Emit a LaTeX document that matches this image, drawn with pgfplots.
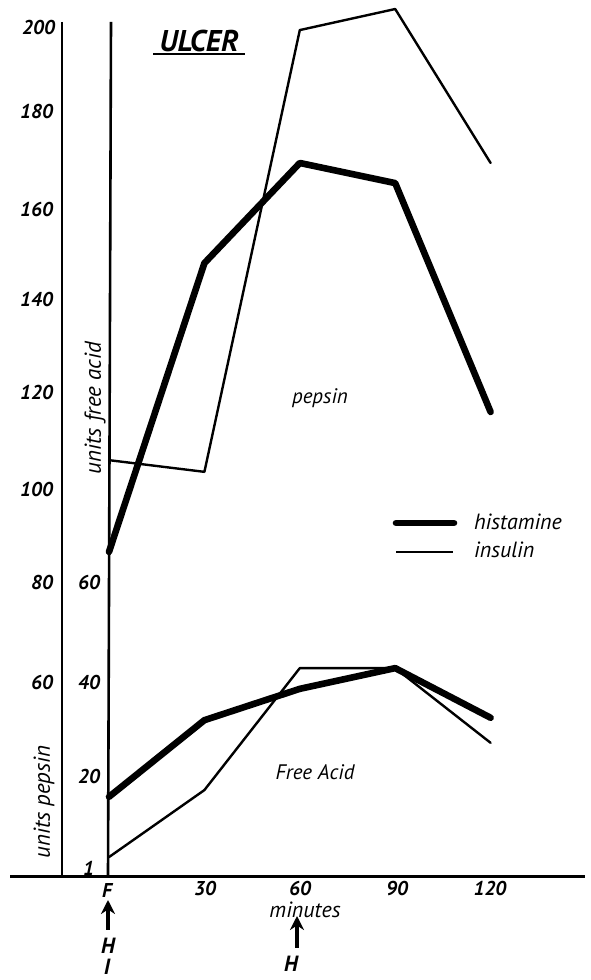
\documentclass[border=0pt]{standalone}
\usepackage{fontspec}
\setmainfont{PT Sans}
\usepackage{pgfplots}
\usepackage{pgfplotstable}
\pgfplotsset{compat=1.18}
\usetikzlibrary{arrows.meta}

% pepsin units
\pgfplotstableread{
m p
0 86.7
30 148.4
60 169.8
90 165.5
120 116.6
}\pepHist
\pgfplotstableread{
m p
0 106.3
30 103.8
60 198.2
90 202.7
120 169.8
}\pepIns
% free acid units
\pgfplotstableread{
m f
0 15.6
30 31.5
60 38.0
90 42.3
120 32.0
}\faHist
\pgfplotstableread{
m f
0 3.1
30 17.0
60 42.3
90 42.3
120 26.8
}\faIns

\pgfplotsset{base/.style={scale only axis, width=295pt, height=490pt,
  at={(0,0)}, anchor=south west, xmin=-34.28, xmax=151.26,
  axis lines=none, clip=false},
  thick line/.style={black, line width=3.3pt, line join=round, line cap=round},
  thin line/.style={black, line width=1.2pt, line join=round, line cap=round}}

\begin{document}
\begin{tikzpicture}
\begin{axis}[base, ymin=-4.78, ymax=204.63]
\addplot[thick line] table[x=m,y=p]{\pepHist};
\addplot[thin line] table[x=m,y=p]{\pepIns};
\end{axis}
\begin{axis}[base, ymin=-22.4, ymax=180.9]
\addplot[thick line] table[x=m,y=f]{\faHist};
\addplot[thin line] table[x=m,y=f]{\faIns};
\end{axis}
\begin{scope}[x=0.5pt, y=-0.5pt, yshift=490pt]
% frame lines
\draw[line width=1.3pt] (62,22) -- (62,877);
\draw[line width=1.3pt] (111,22) -- (108,877);
\draw[line width=1.5pt] (10,877) -- (585,877);
% pepsin ticks
\begin{scope}[font=\fontsize{10}{11}\selectfont\bfseries\itshape]
\node[anchor=east] at (62,28) {200};
\node[anchor=east] at (60,112) {180};
\node[anchor=east] at (60,210) {160};
\node[anchor=east] at (60,300) {140};
\node[anchor=east] at (60,393) {120};
\node[anchor=east] at (60,490) {100};
\node[anchor=east] at (60,583) {80};
\node[anchor=east] at (60,683) {60};
% free acid ticks
\node[anchor=east] at (107,583) {60};
\node[anchor=east] at (107,683) {40};
\node[anchor=east] at (107,777) {20};
\node[anchor=east] at (101,868) {1};
% x ticks
\node at (107,891) {F};
\node at (205,889) {30};
\node at (300,889) {60};
\node at (397,889) {90};
\node at (490,889) {120};
\end{scope}
\node[font=\fontsize{11}{12}\selectfont\itshape] at (305,910) {minutes};
\node[rotate=90, font=\fontsize{11.5}{12}\selectfont\itshape] at (44,802) {units pepsin};
\node[rotate=90, font=\fontsize{11.5}{12}\selectfont\itshape] at (95,408) {units free acid};
% title
\node[font=\fontsize{15}{16}\selectfont\bfseries\itshape] at (199,41) {ULCER};
\draw[line width=1.4pt] (153,54) -- (245,54);
% labels
\node[font=\fontsize{10.5}{11}\selectfont\itshape] at (320,398) {pepsin};
\node[font=\fontsize{10.5}{11}\selectfont\itshape] at (315,772) {Free Acid};
% legend
\draw[line width=3.3pt, line cap=round] (396,523) -- (454,523);
\draw[line width=1.2pt] (396,552) -- (453,552);
\node[anchor=west, font=\fontsize{11}{12}\selectfont\itshape] at (467,522) {histamine};
\node[anchor=west, font=\fontsize{11}{12}\selectfont\itshape] at (467,550) {insulin};
% arrows
\draw[line width=1.6pt, -{Stealth[length=7pt,width=7pt]}] (108,930) -- (108,900);
\draw[line width=1.6pt, -{Stealth[length=7pt,width=7pt]}] (297,948) -- (297,916);
\node[font=\fontsize{11}{12}\selectfont\bfseries\itshape] at (108,946) {H};
\node[font=\fontsize{11}{12}\selectfont\bfseries\itshape] at (107,967) {I};
\node[font=\fontsize{11}{12}\selectfont\bfseries\itshape] at (291,964) {H};
\end{scope}
\pgfresetboundingbox
\path (0,0) rectangle (295pt,490pt);
\end{tikzpicture}
\end{document}
